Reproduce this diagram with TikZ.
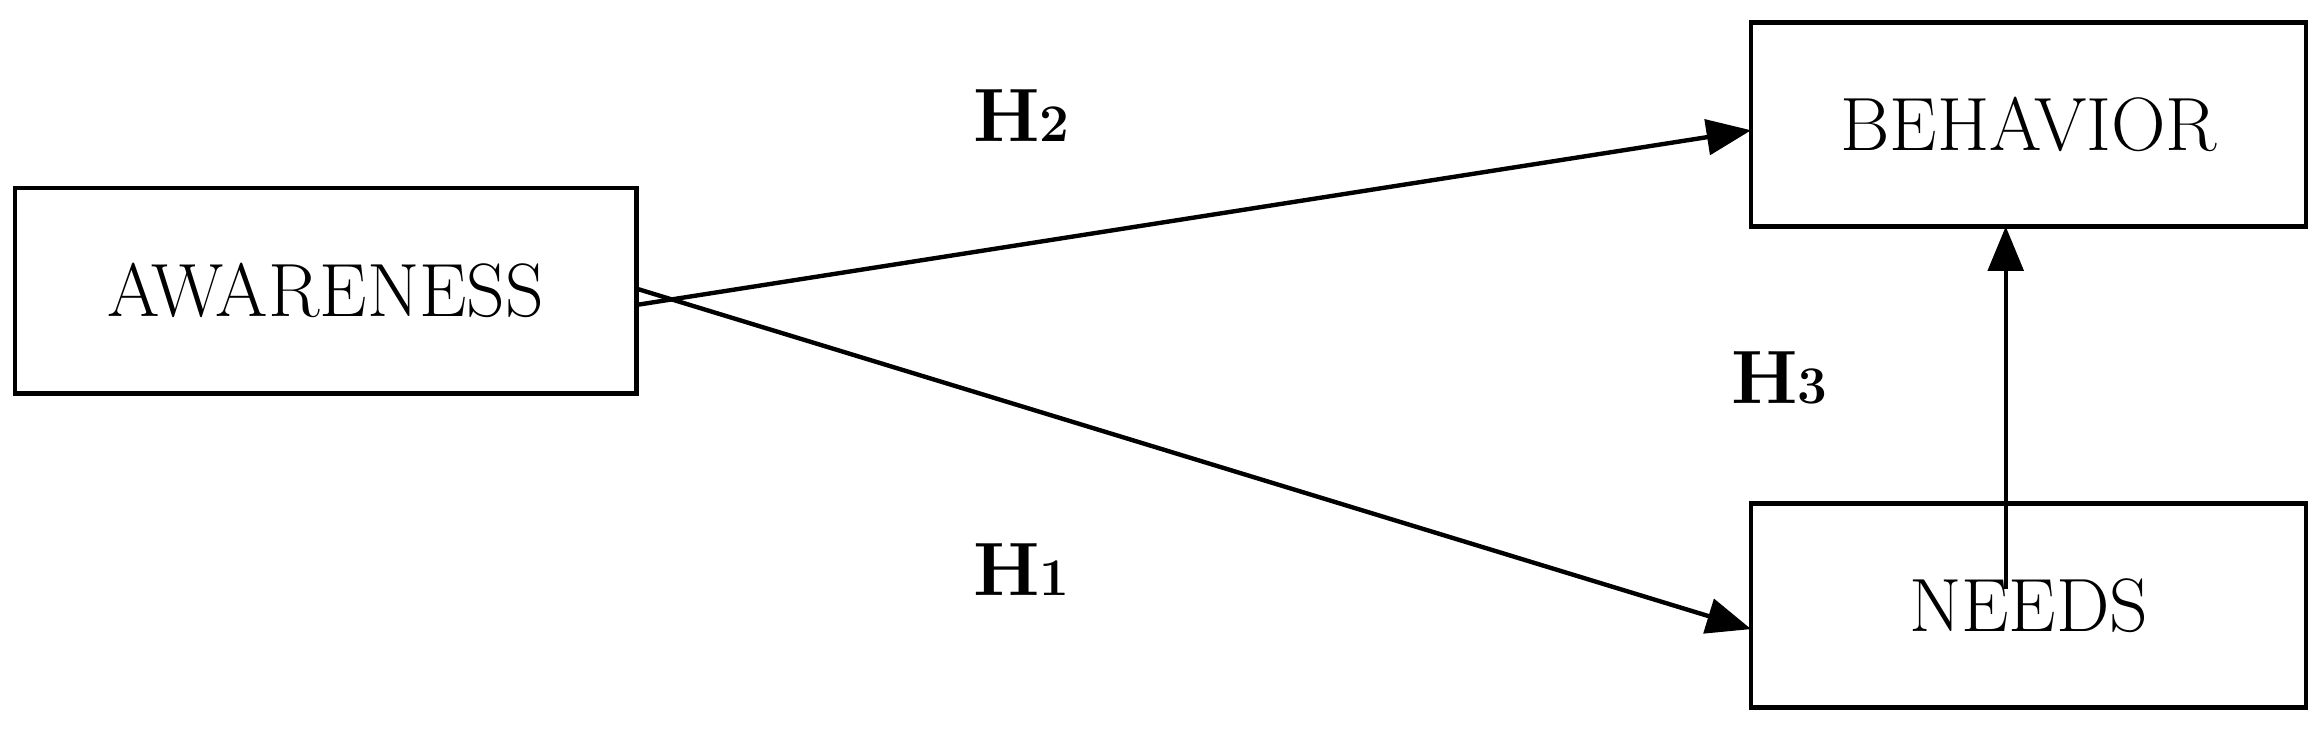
\documentclass[tikz,border=0pt]{standalone}
\usetikzlibrary{arrows.meta}
\begin{document}
\begin{tikzpicture}[x=0.0296cm,y=-0.0296cm,
  box/.style={draw,line width=2.5pt,inner sep=0pt,font=\fontsize{43}{50}\selectfont},
  arr/.style={line width=2.5pt,-{Triangle[length=0.89cm,width=0.71cm]}},
  lab/.style={font=\fontsize{43}{50}\selectfont\bfseries}]
\useasboundingbox (0,0) rectangle (1568,494);
\node[box,minimum width=12.43cm,minimum height=4.11cm] (aw) at (220,196.5) {AWARENESS};
\node[box,minimum width=11.1cm,minimum height=4.08cm] (be) at (1370.5,84) {BEHAVIOR};
\node[box,minimum width=11.1cm,minimum height=4.08cm] (ne) at (1370.5,409) {NEEDS};
\coordinate (a1) at (430,206);
\coordinate (a2) at (430,195);
\coordinate (n1) at (1355,398);
\coordinate (b1) at (1183,88);
\coordinate (n2) at (1183,425);
\coordinate (b2) at (1355,153);
\draw[arr] (a1) -- (b1);
\draw[arr] (a2) -- (n2);
\draw[arr] (n1) -- (b2);
\node[lab] (h2) at (690,78) {H\scalebox{0.7}{2}};
\node[lab] (h1) at (690,385) {H\scalebox{0.7}{1}};
\node[lab] (h3) at (1202,255) {H\scalebox{0.7}{3}};
\end{tikzpicture}
\end{document}
